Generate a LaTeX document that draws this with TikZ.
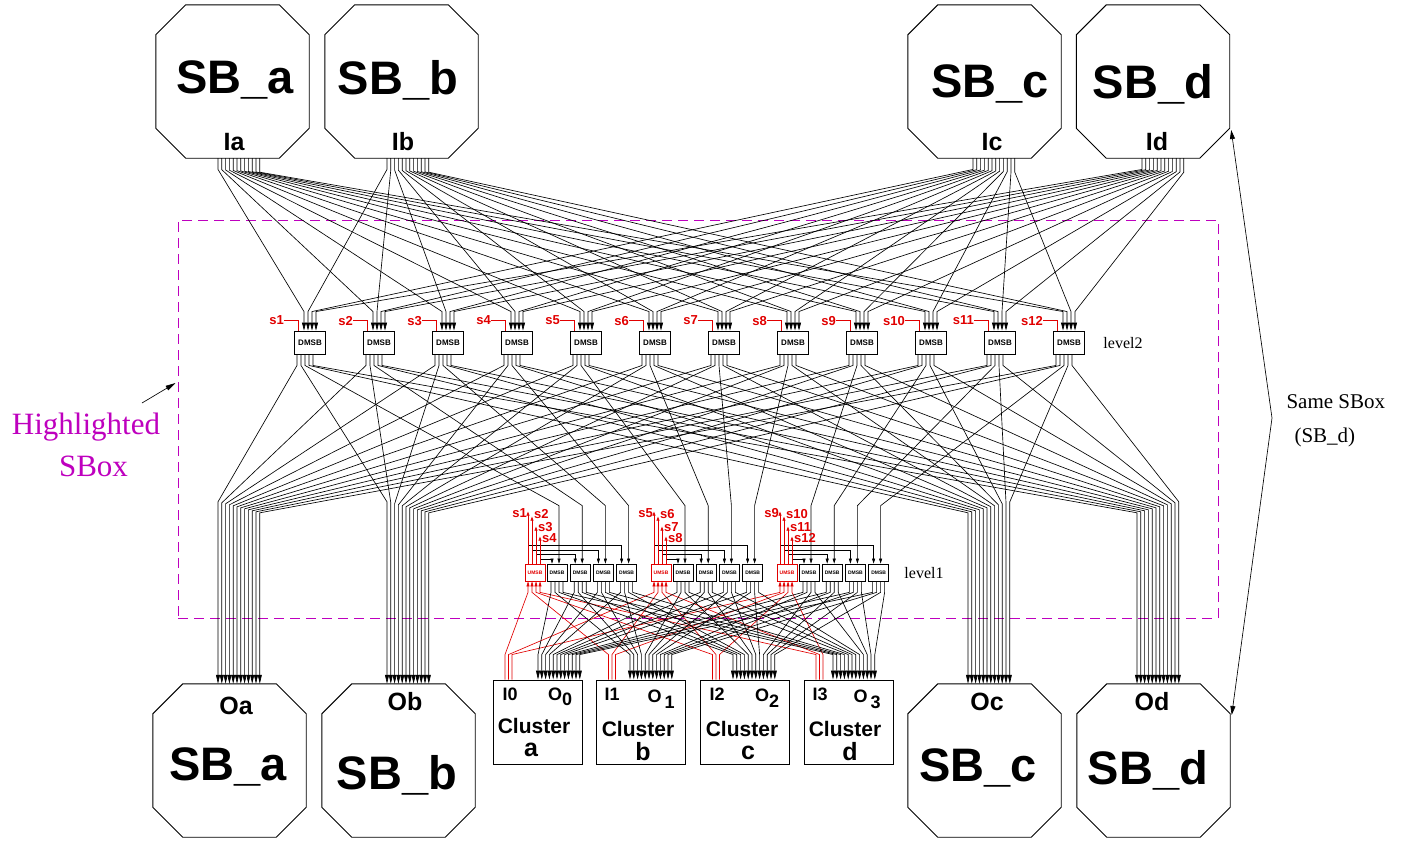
\documentclass[tikz,border=0pt]{standalone}
\usepackage{fontspec}
\setmainfont{Liberation Serif}
\setsansfont{Liberation Sans}
\usetikzlibrary{arrows.meta,calc}
\definecolor{hlmag}{RGB}{190,0,190}
\definecolor{sred}{RGB}{225,0,0}

\begin{document}
\begin{tikzpicture}[x=1pt,y=-1pt,
    sbox/.style={rectangle, minimum width=153pt, minimum height=153pt, inner sep=0pt},
    sbname/.style={font=\sffamily\bfseries\fontsize{47}{47}\selectfont},
    port/.style={font=\sffamily\bfseries\fontsize{25}{25}\selectfont},
    dmsb/.style={draw, fill=white, line width=0.9pt, minimum width=31pt, minimum height=23pt, inner sep=0pt, font=\sffamily\bfseries\fontsize{8}{8}\selectfont},
    dmsbs/.style={draw, fill=white, line width=0.7pt, minimum width=20pt, minimum height=17pt, inner sep=0pt, font=\sffamily\bfseries\fontsize{5}{5}\selectfont},
    umsb/.style={dmsbs, draw=sred, text=sred},
    clus/.style={draw, line width=0.9pt, minimum width=89pt, minimum height=84pt, inner sep=0pt},
    cltext/.style={font=\sffamily\bfseries\fontsize{21}{21}\selectfont, inner sep=0pt},
    clletter/.style={font=\sffamily\bfseries\fontsize{25}{25}\selectfont, inner sep=0pt},
    ctext/.style={font=\sffamily\bfseries\fontsize{18}{18}\selectfont, inner sep=0pt},
    slab/.style={text=sred, font=\sffamily\bfseries\fontsize{13}{13}\selectfont, inner sep=0pt},
    levtext/.style={font=\fontsize{16}{16}\selectfont},
    note/.style={font=\fontsize{21}{21}\selectfont, anchor=west},
    wire/.style={line width=0.65pt},
    arr/.style={-{Triangle[length=9pt,width=4pt]}},
    arrs/.style={-{Triangle[length=5pt,width=3pt]}},
    oct/.style={line width=0.9pt}]

    \useasboundingbox (0,0) rectangle (1412,844);

    % highlighted sbox frame
    \node[draw=hlmag, line width=1pt, dash pattern=on 10pt off 6pt, minimum width=1040pt, minimum height=398pt, inner sep=0pt] (HL) at (698,419) {};

    % switch boxes, top row (inputs) and bottom row (outputs)
    \node[sbox] (Ta) at (232.5,81.5) {};
    \node[sbox] (Tb) at (401.5,81.5) {};
    \node[sbox] (Tc) at (984.5,81.5) {};
    \node[sbox] (Td) at (1153,81.5) {};
    \node[sbox] (Ba) at (229.5,760.5) {};
    \node[sbox] (Bb) at (398.5,760.5) {};
    \node[sbox] (Bc) at (984.5,760.5) {};
    \node[sbox] (Bd) at (1153.5,760.5) {};
    \foreach \nm in {Ta,Tb,Tc,Td,Ba,Bb,Bc,Bd}
        \draw[oct] ($(\nm.north west)+(30,0)$) -- ($(\nm.north east)+(-30,0)$) -- ($(\nm.north east)+(0,30)$) -- ($(\nm.south east)+(0,-30)$) -- ($(\nm.south east)+(-30,0)$) -- ($(\nm.south west)+(30,0)$) -- ($(\nm.south west)+(0,-30)$) -- ($(\nm.north west)+(0,30)$) -- cycle;

    \node[sbname] (Ta-name) at (235,80) {SB\_a};
    \node[sbname] (Tb-name) at (398,80) {SB\_b};
    \node[sbname] (Tc-name) at (990,84) {SB\_c};
    \node[sbname] (Td-name) at (1153,84) {SB\_d};
    \node[port] (Ia) at (234,142) {Ia};
    \node[port] (Ib) at (403,142) {Ib};
    \node[port] (Ic) at (992,142) {Ic};
    \node[port] (Id) at (1157,142) {Id};
    \node[sbname] (Ba-name) at (228,767) {SB\_a};
    \node[sbname] (Bb-name) at (397,775) {SB\_b};
    \node[sbname] (Bc-name) at (978,768) {SB\_c};
    \node[sbname] (Bd-name) at (1148,770) {SB\_d};
    \node[port] (Oa) at (236,706) {Oa};
    \node[port] (Ob) at (405,702) {Ob};
    \node[port] (Oc) at (987,702) {Oc};
    \node[port] (Od) at (1152,702) {Od};

    % level2 DMSBs
    \foreach \wi in {1,...,12}
        \node[dmsb] (L\wi) at ({310+69*(\wi-1)},342.5) {DMSB};
    \node[levtext] (lev2) at (1123,343) {level2};

    % level1: one UMSB and four DMSBs per group
    \foreach \gi in {1,2,3}
        \node[umsb] (U\gi) at ({535+126*(\gi-1)},572.5) {UMSB};
    \foreach \ni in {1,...,12}
        \node[dmsbs] (D\ni) at ({557+126*int((\ni-1)/4)+23.2*mod(\ni-1,4)},572.5) {DMSB};
    \node[levtext] (lev1) at (924,573) {level1};

    % clusters
    \node[clus] (C0) at (537.5,722) {};
    \node[clus] (C1) at (641,722) {};
    \node[clus] (C2) at (745,722) {};
    \node[clus] (C3) at (848.5,722) {};
    \node[ctext] (I0) at (510,694) {I0};
    \node[ctext] (I1) at (612,694) {I1};
    \node[ctext] (I2) at (717,694) {I2};
    \node[ctext] (I3) at (820,694) {I3};
    \node[ctext] (O0) at (560,697) {O\raisebox{-5pt}{0}};
    \node[ctext] (O1) at (661,699) {O\,\raisebox{-6pt}{1}};
    \node[ctext] (O2) at (767,698) {O\raisebox{-6pt}{2}};
    \node[ctext] (O3) at (867,699) {O\,\raisebox{-6pt}{3}};
    \node[cltext] (N0) at (534,726) {Cluster};
    \node[cltext] (N1) at (638,729) {Cluster};
    \node[cltext] (N2) at (742,729) {Cluster};
    \node[cltext] (N3) at (845,729) {Cluster};
    \node[clletter] (la) at (531,750) {a};
    \node[clletter] (lb) at (643,752) {b};
    \node[clletter] (lc) at (748,753) {c};
    \node[clletter] (ld) at (850,752) {d};

    % input sboxes to level2
    \foreach \src/\dx/\ip in {Ta/-14.5/-6, Tb/-14.5/-2, Tc/-11.5/2, Td/-11/6}
        \foreach \wi in {1,...,12}
            \draw[wire,-{Triangle[length=8pt,width=4pt]}] ($(\src.south)+({\dx+3.8*(\wi-1)},0)$) -- ++(0,{11+0.25*\wi}) -- ($(L\wi.north)+(\ip,-19)$) -- ($(L\wi.north)+(\ip,0)$);

    % select lines of level2
    \foreach \wi in {1,...,12} {
        \node[slab, anchor=east] (sa\wi) at ($(L\wi.north)+(-26,-10)$) {s\wi};
        \draw[sred, wire] (sa\wi.east) -| ($(L\wi.north)+(-12,0)$);
    }

    % level2 to output sboxes
    \foreach \dst/\op/\dx/\by/\bs in {Ba/-13/-11.5/-183/1, Bb/-9/-11.5/-183/1, Bc/-1/-16.5/-170/-1, Bd/3/-16.5/-170/-1}
        \foreach \wi in {1,...,12}
            \draw[wire,arr] ($(L\wi.south)+(\op,0)$) -- ++(0,11) -- ($(\dst.north)+({\dx+3.8*(\wi-1)},{\by+\bs*\wi})$) -- ($(\dst.north)+({\dx+3.8*(\wi-1)},0)$);

    % level2 to level1
    \foreach \wi in {1,...,12}
        \draw[wire,arrs] ($(L\wi.south)+(-5,0)$) -- ++(0,11) -- ($(D\wi.north)+(2,-58)$) -- ($(D\wi.north)+(2,0)$);

    % UMSB outputs: select lines up, feedback to DMSBs
    \foreach \gi in {1,2,3}
        \foreach \ri/\ro/\tip/\hy/\ly in {1/-7/-52/-18/1, 2/-3/-47/-13.5/-3, 3/1/-37/-9/0, 4/5/-27/-4.5/1} {
            \pgfmathtruncatemacro\si{4*(\gi-1)+\ri}
            \pgfmathtruncatemacro\di{4*(\gi-1)+5-\ri}
            \draw[wire,arrs] ($(U\gi.north)+(\ro,\hy)$) -| ($(D\di.north)+(-5,0)$);
            \draw[sred,wire,-{Triangle[length=4pt,width=3pt]}] ($(U\gi.north)+(\ro,0)$) -- ($(U\gi.north)+(\ro,\tip)$) coordinate (t\si);
            \ifnum\ri=1
                \node[slab, anchor=east] (sb\si) at ($(t\si)+(-1,\ly)$) {s\si};
            \else
                \node[slab, anchor=west] (sb\si) at ($(t\si)+(2,\ly)$) {s\si};
            \fi
        }

    % cluster inputs to UMSBs
    \foreach \ci/\ro in {0/-7, 1/-3, 2/1, 3/5}
        \foreach \gi in {1,2,3}
            \draw[sred,wire,arrs] ($(C\ci.north)+({-32.5+3.5*(\gi-1)},0)$) -- ++(0,-25) -- ($(U\gi.south)+(\ro,11)$) -- ($(U\gi.south)+(\ro,0)$);

    % level1 DMSBs to cluster outputs
    \foreach \ci/\q/\ox in {0/-6/0.5, 1/-2/-11, 2/2/-12, 3/6/-15.5}
        \foreach \ni in {1,...,12}
            \draw[wire,arr] ($(D\ni.south)+(\q,0)$) -- ++(0,11) -- ($(C\ci.north)+({\ox+3.8*(\ni-1)},-25)$) -- ++(0,25);

    % notes
    \node[font=\fontsize{31}{42}\selectfont, text=hlmag, align=center] (hltext) at (86,445) {Highlighted\\\hspace*{15pt}SBox};
    \coordinate (hlfrom) at (142,403);
    \draw[wire,-{Triangle[length=10pt,width=5pt]}] (hlfrom) -- ($(HL.west)+(-2,-36)$);

    \node[note] (same1) at (1283,402) {Same SBox};
    \node[note] (same2) at (1291,437) {(SB\_d)};
    \coordinate (same) at (1272,418);
    \draw[wire,{Triangle[length=9pt,width=5pt]}-{Triangle[length=9pt,width=5pt]}] ($(Td.east)+(1.5,48.5)$) -- (same) -- ($(Bd.east)+(1.5,-45.5)$);

\end{tikzpicture}
\end{document}
